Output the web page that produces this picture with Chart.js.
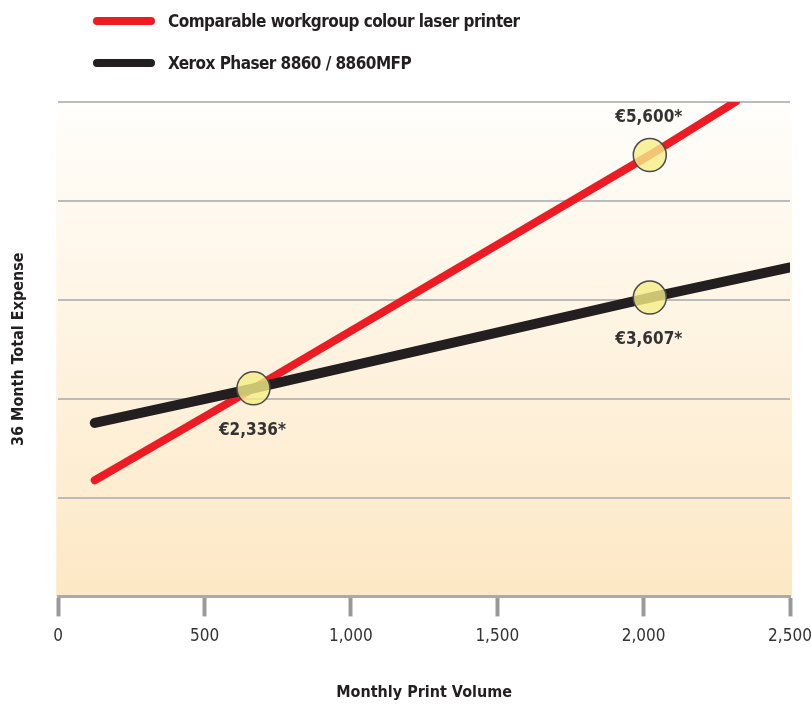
<!DOCTYPE html>
<html>
<head>
<meta charset="utf-8">
<script src="https://cdn.jsdelivr.net/npm/chart.js@4.4.1/dist/chart.umd.min.js"></script>
<style>
  html, body { margin: 0; padding: 0; background: #fff; }
  #wrap { position: relative; width: 811px; height: 704px; }
  #legend { position: absolute; left: 93px; top: 9px; font-family: "Liberation Sans Narrow", "DejaVu Sans Condensed", sans-serif; font-weight: bold; font-size: 17px; letter-spacing: -0.55px; color: #231f20; }
  .item { display: flex; align-items: center; height: 24px; margin-bottom: 18px; }
  .swatch { width: 62px; height: 8px; border-radius: 4px; margin-right: 13px; }
</style>
</head>
<body>
<div id="wrap">
  <canvas id="chart" width="811" height="704"></canvas>
  <div id="legend"></div>
</div>
<script>
// series
var seriesNames = ['Comparable workgroup colour laser printer', 'Xerox Phaser 8860 / 8860MFP'];
var seriesColors = ['#ed1c24', '#231f20'];

// line endpoints and marked points (monthly volume, euros)
var redX = [125, 667, 2021, 2315];
var redY = [1050, 2336, 5600, 6346];
var blackX = [125, 667, 2021, 2500];
var blackY = [1852, 2336, 3607, 4028];

// highlighted values
var markerX = [667, 2021, 2021];
var markerY = [2336, 5600, 3607];
var markerLabels = ['€2,336*', '€5,600*', '€3,607*'];
var markerLabelPos = ['below', 'above', 'below'];

// axis
var xTicks = [0, 500, 1000, 1500, 2000, 2500];
var yMin = -574, yMax = 6342, yGridCount = 5;

function toPoints(xs, ys) {
    return xs.map(function(x, i) { return { x: x, y: ys[i] }; });
}

// legend (html)
var legendEl = document.getElementById('legend');
seriesNames.forEach(function(name, i) {
    var row = document.createElement('div');
    row.className = 'item';
    row.innerHTML = '<span class="swatch" style="background:' + seriesColors[i] + '"></span><span>' + name + '</span>';
    legendEl.appendChild(row);
});

var FONT = '"Liberation Sans Narrow", "DejaVu Sans Condensed", sans-serif';

// gradient background behind plot area
var bgPlugin = {
    id: 'bg',
    beforeDraw: function(chart) {
        var a = chart.chartArea, ctx = chart.ctx;
        var g = ctx.createLinearGradient(0, a.top, 0, a.bottom);
        g.addColorStop(0, '#fffefb');
        g.addColorStop(1, '#fde8c5');
        ctx.save();
        ctx.fillStyle = g;
        ctx.fillRect(a.left - 2, a.top, a.right - a.left + 4, a.bottom - a.top);
        ctx.restore();
    }
};

// value labels next to the markers
var labelPlugin = {
    id: 'markerLabels',
    afterDatasetsDraw: function(chart) {
        var meta = chart.getDatasetMeta(0);
        var ctx = chart.ctx;
        ctx.save();
        ctx.font = 'bold 17px ' + FONT;
        ctx.fillStyle = '#333';
        ctx.textAlign = 'center';
        ctx.textBaseline = 'middle';
        meta.data.forEach(function(el, i) {
            var dy = markerLabelPos[i] === 'above' ? -37 : 42;
            ctx.fillText(markerLabels[i], el.x - 1, el.y + dy);
        });
        ctx.restore();
    }
};

var ctx = document.getElementById('chart').getContext('2d');
var chart = new Chart(ctx, {
    type: 'line',
    data: {
        datasets: [
            {
                label: 'markers',
                data: toPoints(markerX, markerY),
                showLine: false,
                pointRadius: 16.5,
                pointBackgroundColor: 'rgba(245, 237, 135, 0.8)',
                pointBorderColor: '#4a4a4a',
                pointBorderWidth: 1.5,
                order: 0
            },
            {
                label: seriesNames[1],
                data: toPoints(blackX, blackY),
                borderColor: seriesColors[1],
                borderWidth: 10,
                borderCapStyle: 'round',
                pointRadius: 0,
                fill: false,
                order: 1
            },
            {
                label: seriesNames[0],
                data: toPoints(redX, redY),
                borderColor: seriesColors[0],
                borderWidth: 8,
                borderCapStyle: 'round',
                pointRadius: 0,
                fill: false,
                order: 2
            }
        ]
    },
    options: {
        responsive: false,
        animation: false,
        layout: { padding: { left: 9, right: 21, top: 102, bottom: 2 } },
        plugins: {
            legend: { display: false },
            tooltip: { enabled: false }
        },
        scales: {
            x: {
                type: 'linear',
                min: 0,
                max: 2500,
                afterBuildTicks: function(scale) {
                    scale.ticks = xTicks.map(function(v) { return { value: v }; });
                },
                afterFit: function(scale) {
                    // let the last label run to the edge like the original
                    scale.paddingRight = 0;
                },
                grid: {
                    drawOnChartArea: false,
                    drawTicks: true,
                    tickLength: 20,
                    tickWidth: 4,
                    tickColor: '#999'
                },
                border: { color: '#aaa', width: 3 },
                ticks: {
                    padding: 10,
                    color: '#333',
                    font: { family: FONT, size: 17 },
                    maxRotation: 0,
                    callback: function(v) { return v.toLocaleString('en-US'); }
                },
                title: {
                    display: true,
                    text: 'Monthly Print Volume',
                    color: '#231f20',
                    font: { family: FONT, size: 16, weight: 'bold' },
                    padding: { top: 26, bottom: 0 }
                }
            },
            y: {
                type: 'linear',
                min: yMin,
                max: yMax,
                afterBuildTicks: function(scale) {
                    var t = [];
                    for (var i = 0; i <= yGridCount; i++) {
                        t.push({ value: yMin + (yMax - yMin) * i / yGridCount });
                    }
                    scale.ticks = t;
                },
                grid: { color: '#bbb', lineWidth: 2, drawTicks: false },
                border: { display: false },
                ticks: { display: false },
                title: {
                    display: true,
                    text: '36 Month Total Expense',
                    color: '#231f20',
                    font: { family: FONT, size: 16, weight: 'bold' },
                    padding: { top: 0, bottom: 30 }
                }
            }
        }
    },
    plugins: [bgPlugin, labelPlugin]
});
</script>
</body>
</html>
